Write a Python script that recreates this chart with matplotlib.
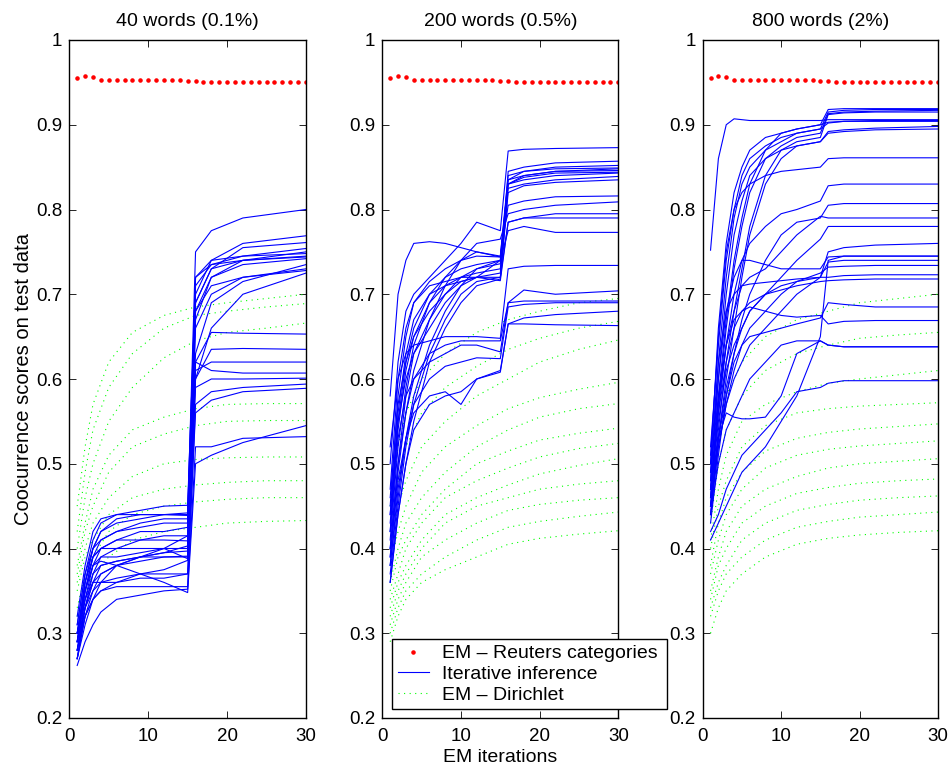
import matplotlib
matplotlib.use('Agg')
import matplotlib.pyplot as plt

plt.rcParams['font.family'] = ['Liberation Sans', 'DejaVu Sans']
plt.rcParams['font.size'] = 14

titles = ['40 words (0.1%)', '200 words (0.5%)', '800 words (2%)']
y_ticks = [0.2, 0.3, 0.4, 0.5, 0.6, 0.7, 0.8, 0.9, 1.0]
y_tick_labels = ['0.2', '0.3', '0.4', '0.5', '0.6', '0.7', '0.8', '0.9', '1']
x_ticks = [0, 10, 20, 30]

# EM with Reuters categories (same in every panel), iterations 1..30
reuters_iters = list(range(1, 31))
reuters_scores = [0.955, 0.957, 0.956, 0.953, 0.953, 0.953, 0.953, 0.953, 0.953, 0.953,
                  0.953, 0.953, 0.953, 0.953, 0.952, 0.952, 0.950, 0.950, 0.950, 0.950,
                  0.950, 0.950, 0.950, 0.950, 0.950, 0.950, 0.950, 0.950, 0.950, 0.950]

# EM Dirichlet curves, read at these iterations
green_iters = [1, 2, 3, 5, 8, 12, 16, 20, 25, 30]

# ---- 40 words ----
p1_iters = [1, 2, 3, 4, 6, 9, 12, 15, 16, 18, 22, 30]
p1_blue = [
    [0.30, 0.36, 0.40, 0.42, 0.43, 0.435, 0.44, 0.44, 0.75, 0.775, 0.79, 0.800],
    [0.29, 0.35, 0.39, 0.41, 0.42, 0.425, 0.43, 0.43, 0.70, 0.74, 0.76, 0.769],
    [0.28, 0.34, 0.38, 0.40, 0.41, 0.42, 0.42, 0.425, 0.69, 0.73, 0.755, 0.761],
    [0.31, 0.37, 0.41, 0.43, 0.44, 0.445, 0.45, 0.451, 0.71, 0.735, 0.745, 0.754],
    [0.27, 0.33, 0.37, 0.39, 0.40, 0.41, 0.415, 0.415, 0.68, 0.72, 0.74, 0.750],
    [0.30, 0.35, 0.38, 0.39, 0.39, 0.395, 0.40, 0.40, 0.69, 0.73, 0.74, 0.745],
    [0.28, 0.33, 0.36, 0.37, 0.38, 0.385, 0.39, 0.39, 0.67, 0.72, 0.735, 0.742],
    [0.29, 0.36, 0.40, 0.42, 0.435, 0.44, 0.44, 0.439, 0.68, 0.71, 0.72, 0.730],
    [0.27, 0.32, 0.35, 0.37, 0.38, 0.39, 0.395, 0.397, 0.66, 0.70, 0.72, 0.728],
    [0.30, 0.34, 0.37, 0.38, 0.385, 0.39, 0.395, 0.403, 0.60, 0.66, 0.70, 0.725],
    [0.29, 0.35, 0.39, 0.40, 0.41, 0.41, 0.41, 0.409, 0.63, 0.69, 0.715, 0.735],
    [0.28, 0.33, 0.36, 0.38, 0.385, 0.39, 0.39, 0.391, 0.62, 0.655, 0.654, 0.653],
    [0.30, 0.36, 0.39, 0.40, 0.40, 0.40, 0.40, 0.388, 0.60, 0.635, 0.636, 0.635],
    [0.27, 0.32, 0.34, 0.35, 0.36, 0.37, 0.375, 0.386, 0.61, 0.62, 0.62, 0.620],
    [0.31, 0.37, 0.40, 0.41, 0.42, 0.43, 0.435, 0.435, 0.62, 0.61, 0.607, 0.607],
    [0.29, 0.34, 0.36, 0.36, 0.36, 0.365, 0.365, 0.37, 0.59, 0.60, 0.60, 0.601],
    [0.28, 0.32, 0.34, 0.35, 0.355, 0.355, 0.355, 0.355, 0.57, 0.585, 0.59, 0.594],
    [0.29, 0.33, 0.35, 0.36, 0.365, 0.37, 0.37, 0.37, 0.56, 0.575, 0.585, 0.589],
    [0.30, 0.35, 0.38, 0.385, 0.38, 0.37, 0.36, 0.348, 0.50, 0.51, 0.525, 0.545],
    [0.262, 0.29, 0.31, 0.325, 0.34, 0.345, 0.35, 0.352, 0.52, 0.52, 0.53, 0.532],
    [0.27, 0.31, 0.34, 0.36, 0.38, 0.39, 0.40, 0.415, 0.72, 0.74, 0.745, 0.748],
    [0.32, 0.38, 0.42, 0.435, 0.44, 0.44, 0.44, 0.442, 0.72, 0.735, 0.74, 0.744],
]
p1_green = [
    [0.45, 0.52, 0.57, 0.62, 0.655, 0.675, 0.685, 0.69, 0.695, 0.700],
    [0.42, 0.49, 0.54, 0.59, 0.63, 0.66, 0.675, 0.68, 0.685, 0.689],
    [0.40, 0.46, 0.50, 0.55, 0.59, 0.625, 0.645, 0.655, 0.66, 0.666],
    [0.38, 0.43, 0.47, 0.51, 0.54, 0.555, 0.565, 0.57, 0.571, 0.571],
    [0.37, 0.42, 0.45, 0.49, 0.52, 0.535, 0.545, 0.55, 0.551, 0.551],
    [0.36, 0.40, 0.43, 0.46, 0.485, 0.50, 0.505, 0.507, 0.508, 0.508],
    [0.35, 0.39, 0.41, 0.44, 0.46, 0.47, 0.475, 0.478, 0.48, 0.480],
    [0.33, 0.37, 0.39, 0.42, 0.44, 0.45, 0.455, 0.458, 0.46, 0.460],
    [0.32, 0.35, 0.37, 0.39, 0.41, 0.42, 0.425, 0.43, 0.432, 0.433],
]

# ---- 200 words ----
p2_iters = [1, 2, 3, 4, 6, 8, 10, 12, 15, 16, 18, 22, 30]
p2_blue = [
    [0.50, 0.62, 0.68, 0.70, 0.72, 0.74, 0.76, 0.785, 0.775, 0.869, 0.871, 0.872, 0.873],
    [0.45, 0.58, 0.65, 0.69, 0.71, 0.715, 0.72, 0.72, 0.725, 0.845, 0.85, 0.855, 0.857],
    [0.42, 0.55, 0.62, 0.66, 0.70, 0.71, 0.715, 0.72, 0.74, 0.835, 0.845, 0.85, 0.852],
    [0.58, 0.70, 0.74, 0.76, 0.762, 0.76, 0.755, 0.75, 0.745, 0.84, 0.845, 0.848, 0.849],
    [0.40, 0.50, 0.58, 0.63, 0.67, 0.70, 0.72, 0.73, 0.736, 0.83, 0.84, 0.845, 0.846],
    [0.44, 0.56, 0.63, 0.67, 0.70, 0.72, 0.73, 0.735, 0.74, 0.83, 0.835, 0.84, 0.843],
    [0.38, 0.46, 0.53, 0.58, 0.64, 0.68, 0.71, 0.72, 0.72, 0.825, 0.83, 0.835, 0.839],
    [0.36, 0.44, 0.50, 0.55, 0.62, 0.66, 0.69, 0.71, 0.718, 0.82, 0.828, 0.832, 0.835],
    [0.47, 0.60, 0.66, 0.69, 0.715, 0.73, 0.74, 0.745, 0.744, 0.835, 0.84, 0.845, 0.848],
    [0.43, 0.54, 0.61, 0.65, 0.69, 0.71, 0.72, 0.725, 0.73, 0.83, 0.838, 0.843, 0.844],
    [0.41, 0.52, 0.59, 0.64, 0.69, 0.72, 0.74, 0.75, 0.744, 0.805, 0.81, 0.815, 0.816],
    [0.39, 0.49, 0.56, 0.61, 0.67, 0.71, 0.74, 0.76, 0.765, 0.795, 0.80, 0.805, 0.809],
    [0.46, 0.57, 0.62, 0.65, 0.68, 0.70, 0.715, 0.72, 0.716, 0.785, 0.79, 0.795, 0.795],
    [0.37, 0.45, 0.52, 0.57, 0.63, 0.67, 0.70, 0.715, 0.72, 0.785, 0.79, 0.79, 0.790],
    [0.44, 0.55, 0.60, 0.63, 0.66, 0.69, 0.71, 0.73, 0.74, 0.775, 0.78, 0.773, 0.773],
    [0.52, 0.60, 0.63, 0.64, 0.645, 0.65, 0.65, 0.65, 0.648, 0.73, 0.733, 0.734, 0.734],
    [0.40, 0.50, 0.56, 0.60, 0.63, 0.64, 0.645, 0.645, 0.645, 0.69, 0.705, 0.70, 0.704],
    [0.42, 0.53, 0.58, 0.60, 0.62, 0.63, 0.64, 0.64, 0.632, 0.69, 0.692, 0.692, 0.692],
    [0.38, 0.47, 0.53, 0.57, 0.60, 0.615, 0.62, 0.625, 0.624, 0.685, 0.688, 0.69, 0.690],
    [0.36, 0.44, 0.50, 0.54, 0.57, 0.58, 0.585, 0.60, 0.608, 0.665, 0.672, 0.676, 0.680],
    [0.39, 0.48, 0.53, 0.56, 0.58, 0.585, 0.57, 0.60, 0.61, 0.665, 0.665, 0.664, 0.663],
]
p2_green = [
    [0.45, 0.52, 0.56, 0.60, 0.63, 0.655, 0.67, 0.68, 0.69, 0.695],
    [0.42, 0.48, 0.52, 0.56, 0.59, 0.615, 0.635, 0.648, 0.66, 0.668],
    [0.40, 0.45, 0.48, 0.52, 0.55, 0.58, 0.60, 0.62, 0.635, 0.646],
    [0.38, 0.42, 0.45, 0.49, 0.52, 0.545, 0.565, 0.578, 0.588, 0.596],
    [0.36, 0.40, 0.43, 0.46, 0.49, 0.52, 0.54, 0.555, 0.565, 0.571],
    [0.35, 0.39, 0.41, 0.44, 0.47, 0.50, 0.515, 0.528, 0.536, 0.542],
    [0.34, 0.37, 0.40, 0.43, 0.46, 0.48, 0.495, 0.508, 0.518, 0.524],
    [0.33, 0.36, 0.38, 0.41, 0.44, 0.46, 0.475, 0.488, 0.498, 0.506],
    [0.32, 0.35, 0.37, 0.40, 0.43, 0.45, 0.46, 0.47, 0.476, 0.480],
    [0.31, 0.34, 0.36, 0.39, 0.41, 0.43, 0.445, 0.452, 0.457, 0.460],
    [0.30, 0.33, 0.35, 0.37, 0.39, 0.41, 0.425, 0.432, 0.438, 0.443],
    [0.29, 0.32, 0.34, 0.36, 0.375, 0.39, 0.405, 0.412, 0.417, 0.421],
]

# ---- 800 words ----
p3_iters = [1, 2, 3, 4, 5, 6, 8, 10, 12, 15, 16, 18, 22, 30]
p3_blue = [
    [0.50, 0.66, 0.76, 0.82, 0.85, 0.87, 0.885, 0.89, 0.895, 0.90, 0.918, 0.919, 0.919, 0.919],
    [0.48, 0.62, 0.72, 0.79, 0.83, 0.85, 0.87, 0.88, 0.89, 0.895, 0.915, 0.917, 0.918, 0.918],
    [0.46, 0.57, 0.66, 0.73, 0.78, 0.82, 0.86, 0.875, 0.885, 0.89, 0.913, 0.915, 0.916, 0.917],
    [0.45, 0.54, 0.62, 0.68, 0.73, 0.78, 0.84, 0.87, 0.88, 0.885, 0.912, 0.914, 0.915, 0.915],
    [0.752, 0.86, 0.90, 0.907, 0.906, 0.905, 0.905, 0.905, 0.905, 0.905, 0.906, 0.906, 0.906, 0.906],
    [0.52, 0.64, 0.74, 0.80, 0.84, 0.86, 0.875, 0.885, 0.89, 0.895, 0.902, 0.904, 0.905, 0.905],
    [0.47, 0.58, 0.67, 0.74, 0.79, 0.83, 0.87, 0.89, 0.895, 0.90, 0.903, 0.904, 0.904, 0.904],
    [0.49, 0.60, 0.70, 0.77, 0.81, 0.84, 0.86, 0.87, 0.875, 0.88, 0.892, 0.894, 0.896, 0.898],
    [0.44, 0.53, 0.60, 0.66, 0.72, 0.77, 0.83, 0.86, 0.875, 0.88, 0.89, 0.892, 0.894, 0.895],
    [0.51, 0.65, 0.75, 0.80, 0.82, 0.83, 0.84, 0.845, 0.847, 0.85, 0.86, 0.861, 0.861, 0.861],
    [0.46, 0.56, 0.64, 0.70, 0.74, 0.76, 0.78, 0.795, 0.80, 0.81, 0.828, 0.83, 0.83, 0.830],
    [0.43, 0.51, 0.58, 0.63, 0.67, 0.70, 0.74, 0.77, 0.785, 0.79, 0.805, 0.807, 0.807, 0.807],
    [0.47, 0.57, 0.64, 0.68, 0.71, 0.72, 0.73, 0.75, 0.77, 0.792, 0.79, 0.79, 0.79, 0.790],
    [0.45, 0.53, 0.59, 0.63, 0.66, 0.68, 0.70, 0.72, 0.74, 0.765, 0.78, 0.78, 0.78, 0.780],
    [0.44, 0.52, 0.57, 0.60, 0.62, 0.64, 0.66, 0.68, 0.70, 0.72, 0.75, 0.755, 0.758, 0.760],
    [0.48, 0.60, 0.68, 0.72, 0.74, 0.74, 0.735, 0.73, 0.73, 0.73, 0.744, 0.745, 0.745, 0.745],
    [0.46, 0.55, 0.61, 0.64, 0.66, 0.68, 0.70, 0.71, 0.715, 0.72, 0.738, 0.74, 0.74, 0.740],
    [0.45, 0.52, 0.57, 0.61, 0.64, 0.66, 0.68, 0.70, 0.715, 0.725, 0.732, 0.733, 0.734, 0.734],
    [0.50, 0.62, 0.68, 0.70, 0.71, 0.712, 0.714, 0.716, 0.718, 0.72, 0.72, 0.722, 0.723, 0.723],
    [0.47, 0.56, 0.62, 0.66, 0.68, 0.69, 0.70, 0.705, 0.71, 0.715, 0.716, 0.717, 0.718, 0.718],
    [0.45, 0.53, 0.58, 0.62, 0.64, 0.65, 0.655, 0.66, 0.665, 0.672, 0.69, 0.688, 0.685, 0.685],
    [0.49, 0.58, 0.64, 0.67, 0.68, 0.685, 0.68, 0.675, 0.673, 0.675, 0.665, 0.668, 0.669, 0.669],
    [0.47, 0.53, 0.56, 0.555, 0.553, 0.553, 0.555, 0.58, 0.63, 0.645, 0.64, 0.638, 0.638, 0.638],
    [0.44, 0.50, 0.54, 0.56, 0.58, 0.60, 0.62, 0.64, 0.645, 0.645, 0.64, 0.638, 0.638, 0.638],
    [0.42, 0.44, 0.47, 0.49, 0.51, 0.52, 0.54, 0.56, 0.585, 0.59, 0.595, 0.598, 0.598, 0.598],
    [0.41, 0.43, 0.45, 0.47, 0.49, 0.50, 0.52, 0.55, 0.58, 0.65, 0.74, 0.745, 0.745, 0.745],
]
p3_green = [
    [0.45, 0.53, 0.58, 0.62, 0.65, 0.67, 0.68, 0.69, 0.695, 0.700],
    [0.43, 0.50, 0.54, 0.58, 0.61, 0.63, 0.64, 0.648, 0.652, 0.655],
    [0.41, 0.47, 0.51, 0.55, 0.57, 0.585, 0.595, 0.60, 0.605, 0.610],
    [0.40, 0.45, 0.48, 0.52, 0.545, 0.56, 0.565, 0.568, 0.57, 0.572],
    [0.38, 0.43, 0.46, 0.49, 0.515, 0.53, 0.537, 0.541, 0.544, 0.547],
    [0.37, 0.41, 0.44, 0.47, 0.495, 0.51, 0.517, 0.521, 0.524, 0.527],
    [0.35, 0.39, 0.42, 0.45, 0.47, 0.485, 0.495, 0.50, 0.503, 0.506],
    [0.34, 0.38, 0.40, 0.43, 0.45, 0.465, 0.472, 0.477, 0.48, 0.482],
    [0.33, 0.36, 0.38, 0.41, 0.43, 0.445, 0.452, 0.457, 0.46, 0.462],
    [0.32, 0.35, 0.37, 0.39, 0.41, 0.425, 0.432, 0.437, 0.44, 0.443],
    [0.30, 0.33, 0.35, 0.37, 0.39, 0.405, 0.412, 0.416, 0.419, 0.421],
]

panels = [(p1_iters, p1_blue, p1_green),
          (p2_iters, p2_blue, p2_green),
          (p3_iters, p3_blue, p3_green)]

W, H = 952, 768
fig = plt.figure(figsize=(W / 100, H / 100), dpi=100)

# axes edges in pixels
lefts = [69.3, 382.3, 702.7]
rights = [306.0, 618.3, 938.0]
top_px, bottom_px = 40.0, 718.0

blue = (0, 0, 1)
green = (0, 1, 0)
red = (1, 0, 0)

for k, (iters, blues, greens) in enumerate(panels):
    ax = fig.add_axes([lefts[k] / W, 1 - bottom_px / H,
                       (rights[k] - lefts[k]) / W, (bottom_px - top_px) / H])

    for g in greens:
        gl, = ax.plot(green_iters, g, color=green, lw=0.8,
                      dashes=(1, 4), label='EM – Dirichlet')
    for b in blues:
        bl, = ax.plot(iters, b, color=blue, lw=0.8, label='Iterative inference')
    rl, = ax.plot(reuters_iters, reuters_scores, '.', color=red, ms=4.5,
                  label='EM – Reuters categories')

    ax.set_xlim(0, 30)
    ax.set_ylim(0.2, 1.0)
    ax.set_xticks(x_ticks)
    ax.set_yticks(y_ticks)
    ax.set_yticklabels(y_tick_labels)
    ax.tick_params(direction='in', top=True, right=True, length=5, width=0.6,
                   labelsize=13.5)
    ax.tick_params(axis='x', pad=7)
    ax.tick_params(axis='y', pad=5)
    for s in ax.spines.values():
        s.set_linewidth(1.0)
    ax.set_title(titles[k], fontsize=14, pad=10)

    if k == 0:
        ax.set_ylabel('Coocurrence scores on test data', fontsize=14.5, labelpad=2.5)
    if k == 1:
        ax.set_xlabel('EM iterations', fontsize=14, labelpad=3)
        handles = [rl, bl, gl]

leg = fig.legend(handles, [h.get_label() for h in handles],
                 loc='upper left', mode='expand',
                 bbox_to_anchor=(391.7 / W, 1 - 709 / H, (667 - 391.7) / W, 70 / H),
                 bbox_transform=fig.transFigure, borderaxespad=0,
                 fontsize=14, handlelength=1.6, handletextpad=0.7,
                 borderpad=0.3, labelspacing=0.15, fancybox=False, framealpha=1,
                 edgecolor='black')
leg.get_frame().set_linewidth(1.0)
leg.set_zorder(10)

plt.savefig('out.png', dpi=100)
